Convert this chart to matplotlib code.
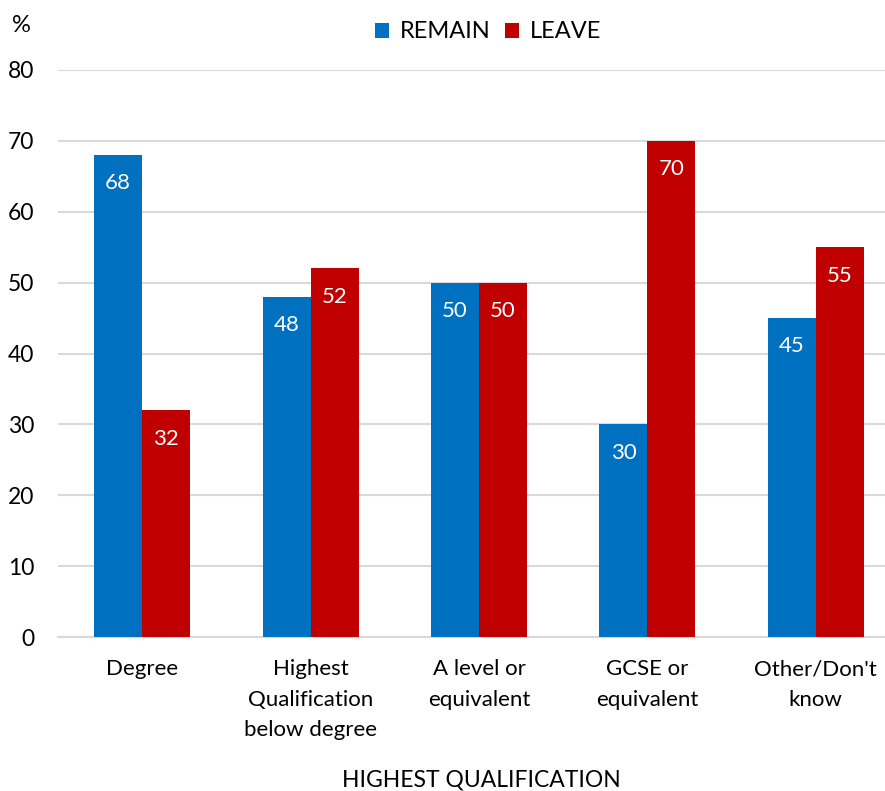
import matplotlib
matplotlib.use("Agg")
import matplotlib.pyplot as plt
import numpy as np

categories = ["Degree", "Highest\nQualification\nbelow degree", "A level or\nequivalent",
              "GCSE or\nequivalent", "Other/Don't\nknow"]
remain = [68, 48, 50, 30, 45]
leave = [32, 52, 50, 70, 55]
yticks = [0, 10, 20, 30, 40, 50, 60, 70, 80]

plt.rcParams['font.family'] = ['Lato', 'DejaVu Sans']

BLUE = "#0070C0"
RED = "#C00000"
GRID = "#D9D9D9"

fig = plt.figure(figsize=(8.85, 7.91), dpi=100)
ax = fig.add_axes([58/885, 154/791, (900-58)/885, 567/791])

x = np.arange(len(categories))
w = 0.285
b1 = ax.bar(x - w/2, remain, w, color=BLUE, label="REMAIN", zorder=3)
b2 = ax.bar(x + w/2, leave, w, color=RED, label="LEAVE", zorder=3)

for bars, vals in ((b1, remain), (b2, leave)):
    for r, v in zip(bars, vals):
        ax.text(r.get_x() + r.get_width()/2, v - 4.0, str(v), ha='center', va='center',
                color='white', fontsize=16, zorder=4)

ax.set_xlim(-0.5, 4.5)
ax.set_ylim(0, 80)
ax.set_yticks(yticks)
ax.set_yticklabels([str(t) for t in yticks], fontsize=16.5)
ax.set_xticks(x)
ax.set_xticklabels(categories, fontsize=16, linespacing=1.65, va='top')
ax.tick_params(axis='y', length=0, pad=17)
ax.tick_params(axis='x', length=0, pad=16)
ax.grid(axis='y', color=GRID, linewidth=1.5, zorder=0)
for s in ['top', 'right', 'left']:
    ax.spines[s].set_visible(False)
ax.spines['bottom'].set_color(GRID)
ax.spines['bottom'].set_linewidth(1.5)
ax.spines['bottom'].set_zorder(1)

fig.text(21/885, 1 - 26/791, "%", fontsize=17, ha='center', va='center')
fig.text(481/885, 1 - 780/791, "HIGHEST QUALIFICATION", fontsize=16.5, ha='center', va='center')

leg = fig.legend(handles=[b1, b2], labels=["REMAIN", "LEAVE"], loc='center',
                 bbox_to_anchor=(488/885, 1 - 32/791), ncol=2, frameon=False,
                 fontsize=17, handlelength=0.6, handleheight=0.6, handletextpad=0.45,
                 columnspacing=0.6)

fig.savefig("out.png", dpi=100)
